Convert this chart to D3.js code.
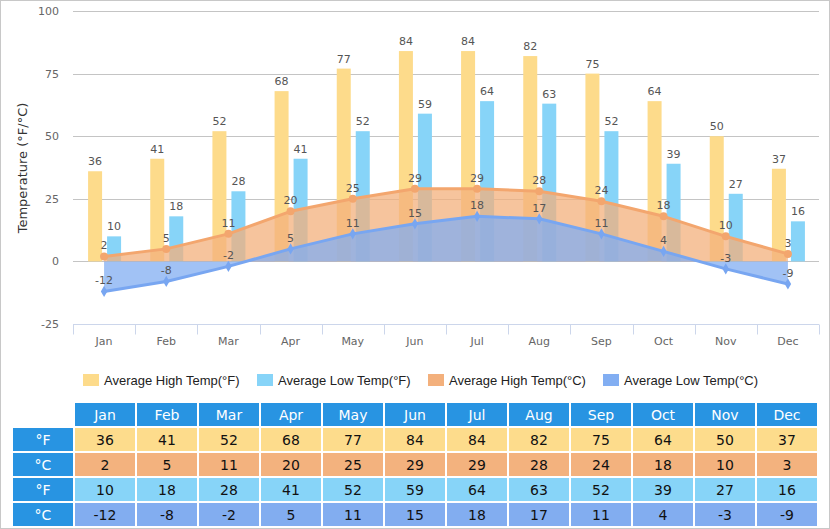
<!DOCTYPE html>
<html>
<head>
<meta charset="utf-8">
<script src="https://cdn.jsdelivr.net/npm/d3@7"></script>
<style>
  body { margin: 0; background: #fff; }
  svg { display: block; }
</style>
</head>
<body>
<script>
// Data
const months = ['Jan', 'Feb', 'Mar', 'Apr', 'May', 'Jun', 'Jul', 'Aug', 'Sep', 'Oct', 'Nov', 'Dec'];
const highF = [36, 41, 52, 68, 77, 84, 84, 82, 75, 64, 50, 37];
const lowF = [10, 18, 28, 41, 52, 59, 64, 63, 52, 39, 27, 16];
const highC = [2, 5, 11, 20, 25, 29, 29, 28, 24, 18, 10, 3];
const lowC = [-12, -8, -2, 5, 11, 15, 18, 17, 11, 4, -3, -9];
const yTicks = [-25, 0, 25, 50, 75, 100];
const legendNames = ['Average High Temp(°F)', 'Average Low Temp(°F)', 'Average High Temp(°C)', 'Average Low Temp(°C)'];
const rowLabels = ['°F', '°C', '°F', '°C'];

// Constants
const w = 830;
const h = 529;
const colors = ['#fddb8b', '#87d4f8', '#f3b07c', '#82aef2'];
const lineColors = ['#fddb8b', '#87d4f8', '#f3a66e', '#78a6f1'];

const svg = d3.select('body')
  .append('svg')
  .attr('width', w)
  .attr('height', h);

// outer border
svg.append('rect')
  .attr('x', 0.5).attr('y', 0.5)
  .attr('width', w - 1).attr('height', h - 1)
  .attr('fill', '#fff')
  .attr('stroke', '#c8c8c8');

// Scales
const x = d3.scaleBand().domain(months).range([73, 819]);
const y = d3.scaleLinear().domain([-25, 100]).range([324, 11]);

// grid
svg.append('g')
  .selectAll('line')
  .data(yTicks.filter(d => d > -25))
  .enter()
  .append('line')
  .attr('x1', 73).attr('x2', 819)
  .attr('y1', d => Math.round(y(d)) + 0.5)
  .attr('y2', d => Math.round(y(d)) + 0.5)
  .attr('stroke', '#c4c4c4');

// y labels
svg.append('g')
  .selectAll('text')
  .data(yTicks)
  .enter()
  .append('text')
  .attr('x', 59)
  .attr('y', d => y(d) + 4)
  .attr('text-anchor', 'end')
  .style('font', '11px "DejaVu Sans", Verdana, sans-serif')
  .style('fill', '#666')
  .text(d => d);

// x axis
const xAxis = svg.append('g')
  .attr('transform', 'translate(0,' + (Math.round(y(-25)) + 0.5) + ')');
xAxis.append('line')
  .attr('x1', 73).attr('x2', 819)
  .attr('stroke', '#ccd6eb');
xAxis.selectAll('.tick')
  .data(months.concat(['end']))
  .enter()
  .append('line')
  .attr('x1', (d, i) => Math.round(73 + i * x.step()) + 0.5)
  .attr('x2', (d, i) => Math.round(73 + i * x.step()) + 0.5)
  .attr('y1', 0).attr('y2', 10)
  .attr('stroke', '#ccd6eb');
xAxis.selectAll('text')
  .data(months)
  .enter()
  .append('text')
  .attr('x', d => x(d) + x.bandwidth() / 2)
  .attr('y', 20)
  .attr('text-anchor', 'middle')
  .style('font', '11px "DejaVu Sans", Verdana, sans-serif')
  .style('fill', '#666')
  .text(d => d);

// y title
svg.append('text')
  .attr('transform', 'translate(27,' + 168 + ') rotate(-90)')
  .attr('text-anchor', 'middle')
  .style('font', '13px "DejaVu Sans", Verdana, sans-serif')
  .style('fill', '#333')
  .text('Temperature (°F/°C)');

const labelFont = '11px "DejaVu Sans", Verdana, sans-serif';

// bars
const barW = 14;
[highF, lowF].forEach((series, s) => {
  const offset = s === 0 ? -16 : 3;
  svg.append('g')
    .selectAll('rect')
    .data(series)
    .enter()
    .append('rect')
    .attr('x', (d, i) => x(months[i]) + x.bandwidth() / 2 + offset)
    .attr('y', d => y(d))
    .attr('width', barW)
    .attr('height', d => y(0) - y(d))
    .attr('fill', colors[s]);
  svg.append('g')
    .selectAll('text')
    .data(series)
    .enter()
    .append('text')
    .attr('x', (d, i) => x(months[i]) + x.bandwidth() / 2 + offset + barW / 2)
    .attr('y', d => y(d) - 6)
    .attr('text-anchor', 'middle')
    .style('font', labelFont)
    .style('fill', '#555')
    .text(d => d);
});

// areas
const cx = (d, i) => x(months[i]) + x.bandwidth() / 2;
[highC, lowC].forEach((series, s) => {
  const area = d3.area()
    .x(cx)
    .y0(y(0))
    .y1(d => y(d));
  const line = d3.line()
    .x(cx)
    .y(d => y(d));
  svg.append('path')
    .datum(series)
    .attr('d', area)
    .attr('fill', colors[2 + s])
    .attr('fill-opacity', 0.75);
  svg.append('path')
    .datum(series)
    .attr('d', line)
    .attr('fill', 'none')
    .attr('stroke', lineColors[2 + s])
    .attr('stroke-width', 3)
    .attr('stroke-linejoin', 'round');
  if (s === 0) {
    svg.append('g')
      .selectAll('circle')
      .data(series)
      .enter()
      .append('circle')
      .attr('cx', cx)
      .attr('cy', d => y(d))
      .attr('r', 4)
      .attr('fill', lineColors[2]);
  } else {
    svg.append('g')
      .selectAll('path')
      .data(series)
      .enter()
      .append('path')
      .attr('d', d3.symbol().type(d3.symbolDiamond).size(36))
      .attr('transform', (d, i) => 'translate(' + cx(d, i) + ',' + y(d) + ')')
      .attr('fill', lineColors[3]);
  }
  svg.append('g')
    .selectAll('text')
    .data(series)
    .enter()
    .append('text')
    .attr('x', cx)
    .attr('y', d => y(d) - 7)
    .attr('text-anchor', 'middle')
    .style('font', labelFont)
    .style('fill', '#555')
    .text(d => d);
});

// legend
const legendX = [83, 257, 428, 603];
const legend = svg.append('g')
  .selectAll('g')
  .data(legendNames)
  .enter()
  .append('g')
  .attr('transform', (d, i) => 'translate(' + legendX[i] + ',374)');
legend.append('rect')
  .attr('width', 16).attr('height', 12)
  .attr('fill', (d, i) => colors[i]);
legend.append('text')
  .attr('x', 21).attr('y', 11)
  .style('font', '13px "Liberation Sans", Arial, sans-serif')
  .style('fill', '#222')
  .text(d => d);

// table
const table = svg.append('g');
const cellW = 60, cellH = 23, colStep = 62, rowStep = 25;
const tableFont = '14px "DejaVu Sans", Verdana, sans-serif';
table.selectAll('.hd')
  .data(months)
  .enter()
  .append('rect')
  .attr('x', (d, i) => 75 + i * colStep)
  .attr('y', 403)
  .attr('width', cellW).attr('height', cellH)
  .attr('fill', '#2894e2');
table.selectAll('.hdt')
  .data(months)
  .enter()
  .append('text')
  .attr('x', (d, i) => 75 + i * colStep + cellW / 2)
  .attr('y', 420)
  .attr('text-anchor', 'middle')
  .style('font', tableFont)
  .style('fill', '#fff')
  .text(d => d);

const rows = [highF, highC, lowF, lowC];
const rowColors = ['#fddc8c', '#f3b27e', '#87d4f8', '#82adf0'];
rows.forEach((series, r) => {
  const ry = 428 + r * rowStep;
  table.append('rect')
    .attr('x', 13).attr('y', ry)
    .attr('width', cellW).attr('height', cellH)
    .attr('fill', '#2894e2');
  table.append('text')
    .attr('x', 43).attr('y', ry + 17)
    .attr('text-anchor', 'middle')
    .style('font', tableFont)
    .style('fill', '#fff')
    .text(rowLabels[r]);
  table.append('g')
    .selectAll('rect')
    .data(series)
    .enter()
    .append('rect')
    .attr('x', (d, i) => 75 + i * colStep)
    .attr('y', ry)
    .attr('width', cellW).attr('height', cellH)
    .attr('fill', rowColors[r]);
  table.append('g')
    .selectAll('text')
    .data(series)
    .enter()
    .append('text')
    .attr('x', (d, i) => 75 + i * colStep + cellW / 2)
    .attr('y', ry + 17)
    .attr('text-anchor', 'middle')
    .style('font', tableFont)
    .style('fill', '#111')
    .text(d => d);
});
</script>
</body>
</html>
